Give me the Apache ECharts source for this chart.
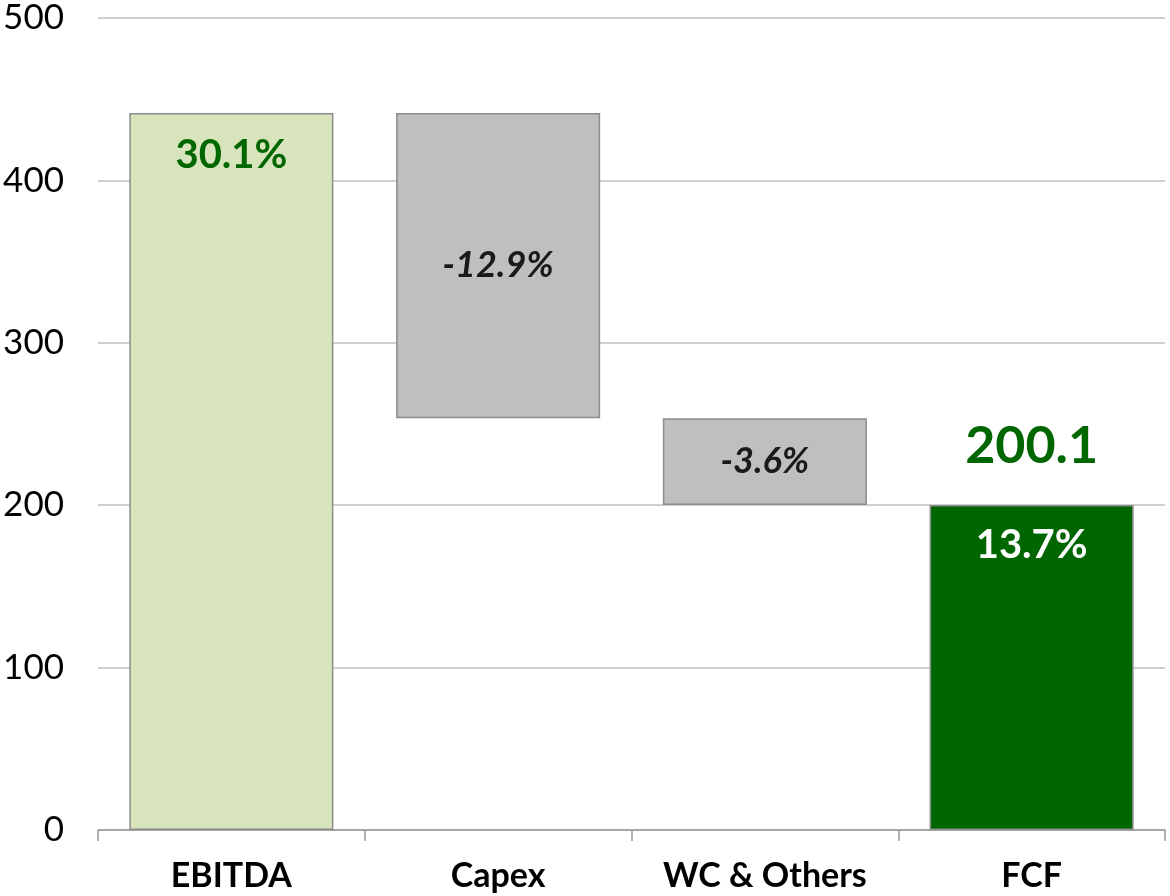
<!DOCTYPE html>
<html>
<head>
<meta charset="utf-8">
<script src="https://cdn.jsdelivr.net/npm/echarts@6/dist/echarts.min.js"></script>
<style>
  html, body { margin: 0; padding: 0; background: #fff; }
  #chart { width: 1170px; height: 896px; }
</style>
</head>
<body>
<div id="chart"></div>
<script>
// categories and waterfall steps
var categories = ['EBITDA', 'Capex', 'WC & Others', 'FCF']
var steps = [441.5, -188.0, -53.4, 200.1]      // last one is the total
var margins = ['30.1%', '-12.9%', '-3.6%', '13.7%']
var totalLabel = '200.1'
var yTicks = [0, 100, 200, 300, 400, 500]

// build invisible base + visible bar heights
var baseData = []
var barData = []
var running = 0
steps.forEach(function (v, i) {
    if (i === 0 || i === steps.length - 1) {
        baseData.push(0)
        barData.push(v)
        running = v
    } else {
        running += v
        baseData.push(running)
        barData.push(-v)
    }
})

var chart = echarts.init(document.getElementById('chart'))
var font = 'Lato, "DejaVu Sans", sans-serif'
var green = '#006600'

var styles = [
    { fill: '#D8E4BC', label: { color: green, fontSize: 40, fontWeight: 'bold', position: 'insideTop', distance: 22 } },
    { fill: '#BFBFBF', label: { color: '#1a1a1a', fontSize: 36, fontWeight: 'bold', fontStyle: 'italic', position: 'inside' } },
    { fill: '#BFBFBF', label: { color: '#1a1a1a', fontSize: 36, fontWeight: 'bold', fontStyle: 'italic', position: 'inside' } },
    { fill: green, label: { color: '#ffffff', fontSize: 40, fontWeight: 'bold', position: 'insideTop', distance: 20 } }
]

var option = {
    animation: false,
    grid: { left: 98, right: 5, top: 18, bottom: 66 },
    xAxis: {
        type: 'category',
        data: categories,
        axisLine: { lineStyle: { color: '#999999', width: 1.5 } },
        axisTick: { show: true, length: 11, lineStyle: { color: '#999999', width: 1.5 } },
        axisLabel: { color: '#000', fontSize: 34, fontWeight: 'bold', fontFamily: font, margin: 29 }
    },
    yAxis: {
        type: 'value',
        min: 0,
        max: yTicks[yTicks.length - 1],
        interval: 100,
        axisLine: { show: false },
        axisTick: { show: false },
        axisLabel: { color: '#000', fontSize: 35, fontFamily: font, margin: 34 },
        splitLine: { lineStyle: { color: '#BFBFBF', width: 1.5 } }
    },
    series: [
        {
            type: 'bar',
            stack: 'wf',
            silent: true,
            itemStyle: { color: 'transparent' },
            data: baseData
        },
        {
            type: 'bar',
            stack: 'wf',
            barWidth: '76.5%',
            data: barData.map(function (v, i) {
                return {
                    value: v,
                    itemStyle: { color: styles[i].fill, borderColor: '#8c8c8c', borderWidth: 1.5 },
                    label: Object.assign({ show: true, fontFamily: font, formatter: margins[i] }, styles[i].label)
                }
            }),
            markPoint: {
                symbol: 'rect',
                symbolSize: 1,
                itemStyle: { color: 'transparent' },
                label: {
                    show: true,
                    position: 'top',
                    distance: 32,
                    color: green,
                    fontSize: 52,
                    fontWeight: 'bold',
                    fontFamily: font,
                    formatter: totalLabel
                },
                data: [{ coord: [categories[3], steps[3]] }]
            }
        }
    ]
}

chart.setOption(option)
</script>
</body>
</html>
